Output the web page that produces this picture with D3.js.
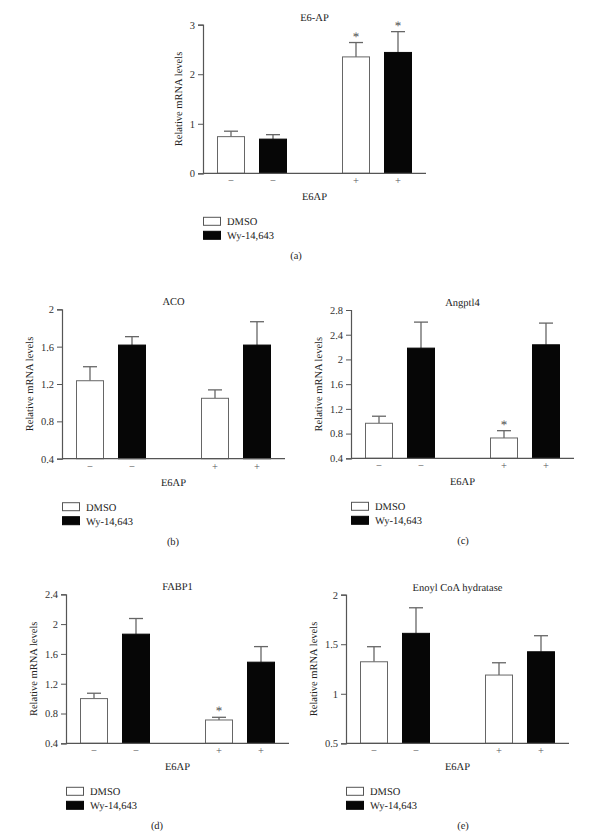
<!DOCTYPE html>
<html>
<head>
<meta charset="utf-8">
<script src="https://cdn.jsdelivr.net/npm/d3@7/dist/d3.min.js"></script>
<style>
  html, body { margin: 0; padding: 0; background: #fff; }
  svg { display: block; }
  text { font-family: "Liberation Serif", "DejaVu Serif", serif; fill: #222; text-rendering: geometricPrecision; -webkit-font-smoothing: antialiased; }
</style>
</head>
<body>
<script>
// ---------- DATA ----------
const groupLabels = ["−", "+"];            // E6AP absent / present
const seriesNames = ["DMSO", "Wy-14,643"];
const xAxisTitle = "E6AP";
const yAxisTitle = "Relative mRNA levels";
const titles = ["E6-AP", "ACO", "Angptl4", "FABP1", "Enoyl CoA hydratase"];
const panelLetters = ["(a)", "(b)", "(c)", "(d)", "(e)"];

// means per panel: [E6AP −, E6AP +]
const dmsoMeans = [[0.74, 2.35], [1.235, 1.047], [0.967, 0.729], [1.00, 0.713], [1.323, 1.189]];
const dmsoErrs  = [[0.11, 0.29], [0.15, 0.09],   [0.114, 0.118], [0.072, 0.036], [0.152, 0.124]];
const wyMeans   = [[0.69, 2.44], [1.617, 1.617], [2.183, 2.237], [1.865, 1.489], [1.61, 1.424]];
const wyErrs    = [[0.09, 0.42], [0.09, 0.25],   [0.421, 0.351], [0.21, 0.209],  [0.258, 0.162]];
// significance stars: [dmso−, wy−, dmso+, wy+]
const stars = [[0, 0, 1, 1], [0, 0, 0, 0], [0, 0, 1, 0], [0, 0, 1, 0], [0, 0, 0, 0]];

const yDomains = [[0, 3], [0.4, 2], [0.4, 2.8], [0.4, 2.4], [0.5, 2]];
const yTicks = [
  [0, 1, 2, 3],
  [0.4, 0.8, 1.2, 1.6, 2],
  [0.4, 0.8, 1.2, 1.6, 2, 2.4, 2.8],
  [0.4, 0.8, 1.2, 1.6, 2, 2.4],
  [0.5, 1, 1.5, 2]
];

// ---------- LAYOUT ----------
const W = 603, H = 836;
const layout = [
  { x0: 203, yTop: 24.7, yBot: 173.3, letterX: 296 },
  { x0: 62,  yTop: 309.3, yBot: 458.7, letterX: 173 },
  { x0: 351, yTop: 310,  yBot: 458.3, letterX: 463 },
  { x0: 66,  yTop: 594.3, yBot: 743.3, letterX: 157 },
  { x0: 346, yTop: 594.7, yBot: 743.3, letterX: 463 }
];
const axisW = 223;
const axisColor = "#555";
const barStroke = "#666";
const blackFill = "#060606";
const fontSize = 10.5;

const svg = d3.select("body").append("svg").attr("width", W).attr("height", H);

titles.forEach((title, p) => {
  const L = layout[p];
  const g = svg.append("g");

  const y = d3.scaleLinear().domain(yDomains[p]).range([L.yBot, L.yTop]);
  const outer = d3.scaleBand().domain(groupLabels)
    .range([L.x0, L.x0 + axisW]).paddingInner(0.44).paddingOuter(0.112);
  const inner = d3.scaleBand().domain(seriesNames)
    .range([0, outer.bandwidth()]).paddingInner(1 / 3).paddingOuter(0);

  const bars = [];
  groupLabels.forEach((gl, gi) => {
    bars.push({ group: gl, series: seriesNames[0], v: dmsoMeans[p][gi], e: dmsoErrs[p][gi], star: stars[p][gi * 2] });
    bars.push({ group: gl, series: seriesNames[1], v: wyMeans[p][gi], e: wyErrs[p][gi], star: stars[p][gi * 2 + 1] });
  });

  const bx = d => outer(d.group) + inner(d.series);
  const bw = inner.bandwidth();

  // error bars (upper only)
  bars.forEach(d => {
    const cx = bx(d) + bw / 2;
    g.append("line").attr("x1", cx).attr("x2", cx)
      .attr("y1", y(d.v)).attr("y2", y(d.v + d.e))
      .attr("stroke", barStroke).attr("stroke-width", 1.3);
    g.append("line").attr("x1", cx - 7).attr("x2", cx + 7)
      .attr("y1", y(d.v + d.e)).attr("y2", y(d.v + d.e))
      .attr("stroke", barStroke).attr("stroke-width", 1.3);
    if (d.star) {
      g.append("text").attr("x", cx).attr("y", y(d.v + d.e) - 2)
        .attr("text-anchor", "middle").attr("font-size", 13)
        .style("fill", "#555")
        .text("*");
    }
  });

  // bars
  g.selectAll("rect.bar").data(bars).join("rect")
    .attr("class", "bar")
    .attr("x", d => bx(d) + 0.5)
    .attr("width", bw - 1)
    .attr("y", d => y(d.v))
    .attr("height", d => y(yDomains[p][0]) - y(d.v))
    .attr("fill", d => d.series === seriesNames[0] ? "#fff" : blackFill)
    .attr("stroke", d => d.series === seriesNames[0] ? barStroke : blackFill)
    .attr("stroke-width", 1);

  // y axis
  const fmt = d3.format("~g");
  const yAxisG = g.append("g").attr("transform", `translate(${L.x0},0)`)
    .call(d3.axisLeft(y).tickValues(yTicks[p]).tickSize(5).tickPadding(3).tickFormat(fmt));
  yAxisG.select(".domain").attr("stroke", axisColor).attr("stroke-width", 1.2);
  yAxisG.selectAll(".tick line").attr("stroke", axisColor).attr("stroke-width", 1);
  yAxisG.selectAll(".tick text").attr("font-size", fontSize)
    .attr("font-family", "Liberation Serif, DejaVu Serif, serif").style("fill", "#333");

  // x axis baseline
  g.append("line").attr("x1", L.x0).attr("x2", L.x0 + axisW)
    .attr("y1", L.yBot).attr("y2", L.yBot)
    .attr("stroke", axisColor).attr("stroke-width", 1.2);

  // − / + labels under each bar
  bars.forEach(d => {
    g.append("text").attr("x", bx(d) + bw / 2).attr("y", L.yBot + 11)
      .attr("text-anchor", "middle").attr("font-size", fontSize).style("fill", "#555")
      .text(d.group);
  });

  // x axis title
  g.append("text").attr("x", L.x0 + axisW / 2).attr("y", L.yBot + 27)
    .attr("text-anchor", "middle").attr("font-size", fontSize).text(xAxisTitle);

  // chart title
  g.append("text").attr("x", L.x0 + axisW / 2).attr("y", L.yTop - 4)
    .attr("text-anchor", "middle").attr("font-size", fontSize).text(title);

  // y axis title
  const bb = yAxisG.node().getBBox();
  const lx = L.x0 + bb.x - 7.5;
  const ly = (L.yTop + L.yBot) / 2;
  g.append("text").attr("transform", `translate(${lx},${ly}) rotate(-90)`)
    .attr("text-anchor", "middle").attr("font-size", fontSize).text(yAxisTitle);

  // legend
  seriesNames.forEach((s, i) => {
    const cy = L.yBot + 48 + i * 14;
    g.append("rect").attr("x", L.x0 + 0.5).attr("y", cy - 4).attr("width", 17).attr("height", 8)
      .attr("fill", i === 0 ? "#fff" : blackFill)
      .attr("stroke", i === 0 ? "#555" : blackFill).attr("stroke-width", 1);
    g.append("text").attr("x", L.x0 + 24).attr("y", cy + 4)
      .attr("font-size", fontSize).text(s);
  });

  // panel letter
  g.append("text").attr("x", L.letterX).attr("y", L.yBot + 86)
    .attr("text-anchor", "middle").attr("font-size", fontSize).text(panelLetters[p]);
});
</script>
</body>
</html>
